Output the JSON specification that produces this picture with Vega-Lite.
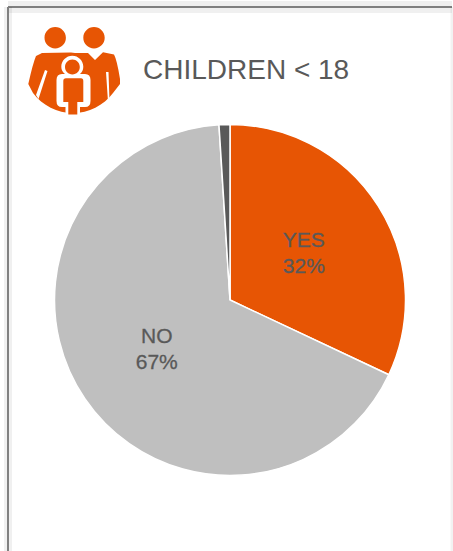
{"$schema":"https://vega.github.io/schema/vega-lite/v6.json","width":444,"height":586,"padding":{"left":8,"top":7,"right":1,"bottom":-42},"autosize":{"type":"none"},"background":"#ffffff","view":{"stroke":null},"title":{"text":"CHILDREN < 18","anchor":"start","frame":"group","orient":"top","offset":-106,"dx":135,"baseline":"alphabetic","font":"Liberation Sans","fontSize":28,"fontWeight":"normal","color":"#595959"},"data":{"values":[{"answer":"YES","pct":32,"rank":1,"label":"YES\n32%"},{"answer":"NO","pct":67,"rank":2,"label":"NO\n67%"},{"answer":"OTHER","pct":1,"rank":3,"label":""}]},"layer":[{"data":{"values":[{"line":"frame"}]},"encoding":{"x":{"datum":8,"type":"quantitative","scale":{"domain":[8,452],"nice":false,"zero":false},"axis":null},"y":{"datum":7,"type":"quantitative","scale":{"domain":[7,593],"nice":false,"zero":false,"reverse":true},"axis":null},"x2":{"datum":452}},"layer":[{"mark":{"type":"rule","stroke":"#000000","opacity":0.06,"strokeWidth":12,"clip":false}},{"mark":{"type":"rule","stroke":"#808080","strokeWidth":2,"clip":false}}]},{"data":{"values":[{"line":"frame"}]},"encoding":{"x":{"datum":8,"type":"quantitative"},"y":{"datum":7,"type":"quantitative"},"y2":{"datum":593}},"layer":[{"mark":{"type":"rule","stroke":"#000000","opacity":0.06,"strokeWidth":8,"clip":false}},{"mark":{"type":"rule","stroke":"#808080","strokeWidth":2,"clip":false}}]},{"data":{"values":[{"line":"frame"}]},"encoding":{"x":{"datum":452,"type":"quantitative"},"y":{"datum":7,"type":"quantitative"},"y2":{"datum":593}},"mark":{"type":"rule","stroke":"#000000","opacity":0.05,"strokeWidth":3,"clip":false}},{"data":{"values":[{"part":"icon"}]},"encoding":{"x":{"datum":0,"type":"quantitative"},"y":{"datum":0,"type":"quantitative"}},"layer":[{"mark":{"type":"point","filled":true,"opacity":1,"size":4,"clip":false,"color":"#E75504","shape":"M44.5,37.7A10.7,10.7 0 1 1 65.9,37.7A10.7,10.7 0 1 1 44.5,37.7ZM83.3,37.7A10.7,10.7 0 1 1 104.7,37.7A10.7,10.7 0 1 1 83.3,37.7ZM42,53L71,52.5L75,53L88,53L95,60L103,52.3L114,54.5Q117,60 120,79L120,84L113,93A50,50 0 0 1 33,93L28.3,84Q33,63 36,56Z"}},{"mark":{"type":"point","filled":true,"opacity":1,"size":4,"clip":false,"color":"#ffffff","shape":"M45,70L47.5,71L38.5,99L36,95ZM106,72L108.5,72L109.5,101L108,102ZM61.3,66.7A11,11 0 1 1 83.3,66.7Q83.3,71 80,74L85,74Q90.5,74 90.5,80L90.5,101Q90.5,107 85,107L80,107L80,115L65.5,115L65.5,107L62,107Q56.5,107 56.5,101L56.5,80Q56.5,74 62,74L65,74Q61.3,71 61.3,66.7Z"}},{"mark":{"type":"point","filled":true,"opacity":1,"size":4,"clip":false,"color":"#E75504","shape":"M65,67A7.4,7.4 0 1 1 79.8,67A7.4,7.4 0 1 1 65,67ZM66,78.3L81,78.3Q83.3,78.3 83.3,81L83.3,102L77.3,102L77.3,114.5L68.3,114.5L68.3,102L63.3,102L63.3,81Q63.3,78.3 66,78.3Z"}}]},{"encoding":{"theta":{"field":"pct","type":"quantitative","stack":true},"order":{"field":"rank","type":"ordinal"}},"layer":[{"mark":{"type":"arc","outerRadius":175.5,"stroke":"#ffffff","strokeWidth":1.5},"encoding":{"color":{"field":"answer","type":"nominal","legend":null,"scale":{"domain":["YES","NO","OTHER"],"range":["#E75504","#BFBFBF","#595959"]}}}},{"mark":{"type":"text","radius":88,"dy":-12,"dx":-0.5,"font":"Liberation Sans","fontSize":21,"lineHeight":26,"lineBreak":"\n","color":"#595959","stroke":"#595959","strokeWidth":0.3},"encoding":{"text":{"field":"label","type":"nominal"}}}]}]}
